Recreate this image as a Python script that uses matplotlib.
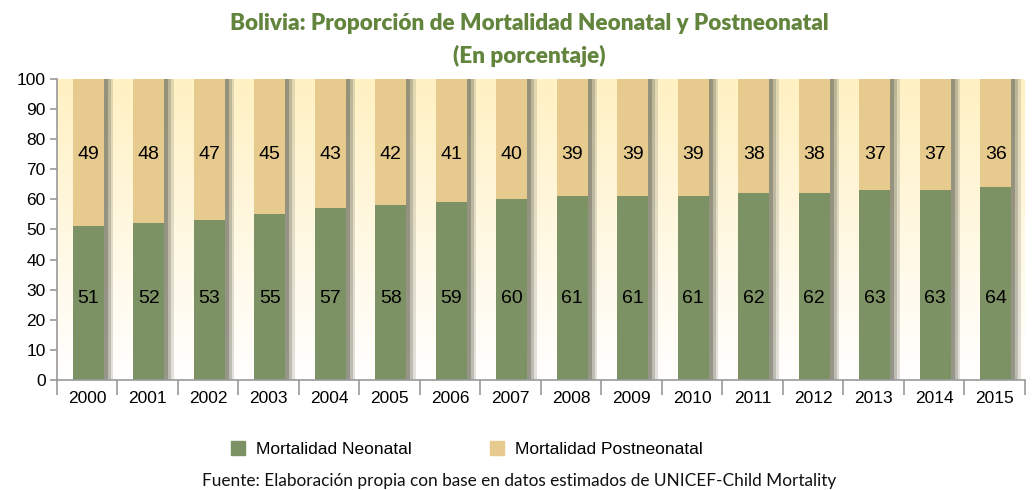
import numpy as np
import matplotlib
matplotlib.use("Agg")
import matplotlib.pyplot as plt
import matplotlib.patheffects as pe
from matplotlib.patches import Rectangle

# -----------------------------
# Datos
# -----------------------------
anios = ["2000", "2001", "2002", "2003", "2004", "2005", "2006", "2007",
         "2008", "2009", "2010", "2011", "2012", "2013", "2014", "2015"]
neonatal = [51, 52, 53, 55, 57, 58, 59, 60, 61, 61, 61, 62, 62, 63, 63, 64]
postneonatal = [49, 48, 47, 45, 43, 42, 41, 40, 39, 39, 39, 38, 38, 37, 37, 36]

verde = "#7D9264"
beige = "#E7CB8E"
verde_titulo = "#62843C"

plt.rcParams["font.family"] = ["Liberation Sans", "DejaVu Sans"]

fig = plt.figure(figsize=(10.33, 4.9), dpi=100)
ax = fig.add_axes([0.055, 0.2245, 0.937, 0.6145])

x = np.arange(len(anios))
ax.set_xlim(-0.5, len(anios) - 0.5)
ax.set_ylim(0, 100)

# fondo con degradado (crema arriba -> blanco abajo)
grad = np.linspace(0, 1, 256).reshape(-1, 1)
c_top = np.array([1.0, 0.945, 0.76])
c_bot = np.array([1.0, 1.0, 1.0])
img = c_top * (1 - grad[..., None]) + c_bot * grad[..., None]
img = np.repeat(img, 2, axis=1)
ax.imshow(img, extent=(-0.5, len(anios) - 0.5, 0, 100), aspect="auto",
          origin="upper", zorder=0)

# sombra difusa a la derecha de cada barra
sombra = [pe.SimplePatchShadow(offset=(7, 0), shadow_rgbFace="#8a8a78", alpha=0.25),
          pe.SimplePatchShadow(offset=(5, 0), shadow_rgbFace="#7a7a68", alpha=0.35),
          pe.SimplePatchShadow(offset=(3, 0), shadow_rgbFace="#6f6f60", alpha=0.5),
          pe.Normal()]
ancho = 0.51
b1 = ax.bar(x + 0.02, neonatal, ancho, color=verde, zorder=2)
b2 = ax.bar(x + 0.02, postneonatal, ancho, bottom=neonatal, color=beige, zorder=2)
for b in list(b1) + list(b2):
    b.set_path_effects(sombra)

for i in range(len(anios)):
    ax.text(x[i] + 0.02, 27, str(neonatal[i]), ha="center", va="center",
            fontsize=14, color="black", zorder=3)
    ax.text(x[i] + 0.02, 75, str(postneonatal[i]), ha="center", va="center",
            fontsize=14, color="black", zorder=3)

# ejes
for s in ["top", "right"]:
    ax.spines[s].set_visible(False)
for s in ["left", "bottom"]:
    ax.spines[s].set_color("#9a9a9a")
    ax.spines[s].set_linewidth(1.2)

ax.set_yticks(range(0, 101, 10))
ax.tick_params(axis="y", length=5, color="#9a9a9a", width=1.2, labelsize=12.5, pad=3)
ax.set_xticks(x)
ax.set_xticklabels(anios, fontsize=12.5)
ax.tick_params(axis="x", length=0, pad=8)
ax.set_xticks(np.arange(-0.5, len(anios)), minor=True)
ax.tick_params(axis="x", which="minor", length=11, color="#9a9a9a", width=1.2)

# titulo
fig.text(0.512, 0.953, "Bolivia: Proporción de Mortalidad Neonatal y Postneonatal",
         ha="center", va="center", fontsize=16.2, fontweight="heavy",
         color=verde_titulo, fontfamily="Lato")
fig.text(0.512, 0.886, "(En porcentaje)", ha="center", va="center", fontsize=16.2,
         fontweight="heavy", color=verde_titulo, fontfamily="Lato")

# leyenda
h1 = Rectangle((0, 0), 1, 1, color=verde)
h2 = Rectangle((0, 0), 1, 1, color=beige)
fig.legend(handles=[h1, h2], labels=["Mortalidad Neonatal", "Mortalidad Postneonatal"],
           loc="center", bbox_to_anchor=(0.452, 0.083),
           ncol=2, frameon=False, handlelength=0.8, handleheight=0.8,
           handletextpad=0.62, columnspacing=4.5,
           prop={"size": 12.5})

fig.text(0.503, 0.018, "Fuente: Elaboración propia con base en datos estimados de UNICEF-Child Mortality",
         ha="center", va="center", fontsize=12.4, fontfamily="Lato", color="#111111")

fig.savefig("out.png", dpi=100)
